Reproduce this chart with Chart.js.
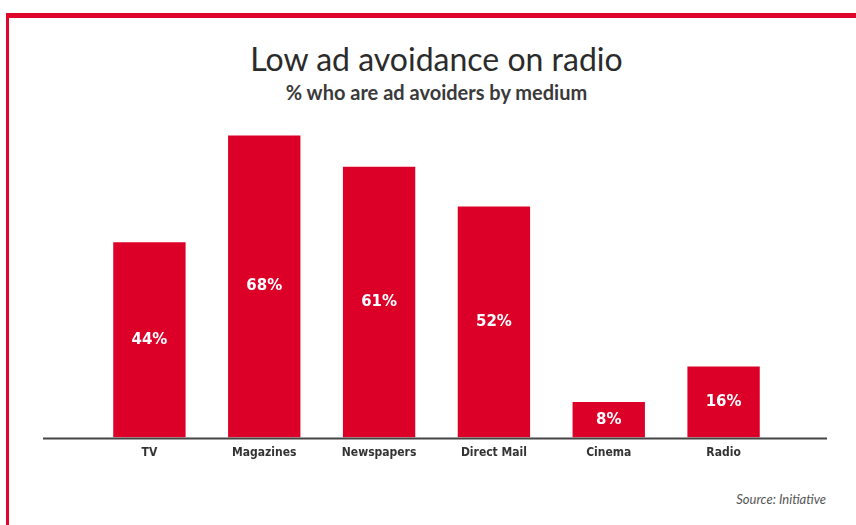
<!DOCTYPE html>
<html lang="en">
<head>
<meta charset="UTF-8">
<title>Low ad avoidance on radio</title>
<script src="https://cdn.jsdelivr.net/npm/chart.js@4/dist/chart.umd.min.js"></script>
<style>
  * { box-sizing: border-box; margin: 0; padding: 0; }
  body { width: 856px; height: 525px; background: #fff; position: relative; overflow: hidden; font-family: Lato, sans-serif; }
  .frame-top { position: absolute; left: 6px; top: 13px; width: 850px; height: 5px; background: #e0062b; }
  .frame-left { position: absolute; left: 6px; top: 13px; width: 3px; height: 512px; background: #e0062b; }
  .title { position: absolute; left: 0; width: 873px; top: 39px; text-align: center; font-size: 32px; color: #2b2b2b; }
  .subtitle { position: absolute; left: 0; width: 873px; top: 80px; text-align: center; font-size: 20px; font-weight: 700; color: #3a3a3a; }
  .source { position: absolute; right: 30px; top: 491px; font-size: 13px; font-style: italic; color: #555; }
  #wrap { position: absolute; left: 0; top: 0; width: 856px; height: 525px; }
</style>
</head>
<body>
<div class="frame-top"></div>
<div class="frame-left"></div>
<div class="title">Low ad avoidance on radio</div>
<div class="subtitle">% who are ad avoiders by medium</div>
<div class="source">Source: Initiative</div>
<div id="wrap"><canvas id="chart" width="856" height="525"></canvas></div>
<script>
const categories = ['TV', 'Magazines', 'Newspapers', 'Direct Mail', 'Cinema', 'Radio']
const avoiders = [44, 68, 61, 52, 8, 16]

const RED = '#dc0029'

// white % labels centred inside each bar
const barLabels = {
  id: 'barLabels',
  afterDatasetsDraw(chart) {
    const { ctx } = chart
    const meta = chart.getDatasetMeta(0)
    ctx.save()
    ctx.fillStyle = '#fff'
    ctx.font = 'bold 15px "DejaVu Sans"'
    ctx.textAlign = 'center'
    ctx.textBaseline = 'middle'
    meta.data.forEach((bar, i) => {
      ctx.fillText(avoiders[i] + '%', bar.x, (bar.y + bar.base) / 2)
    })
    ctx.restore()
  }
}

// baseline runs wider than the plot area
const baseline = {
  id: 'baseline',
  afterDraw(chart) {
    const { ctx, chartArea } = chart
    const y = chart.scales.y.getPixelForValue(0) + 1
    ctx.save()
    ctx.strokeStyle = '#444'
    ctx.lineWidth = 2
    ctx.beginPath()
    ctx.moveTo(chartArea.left - 49, y)
    ctx.lineTo(chartArea.right + 46, y)
    ctx.stroke()
    ctx.restore()
  }
}

new Chart(document.getElementById('chart'), {
  type: 'bar',
  data: {
    labels: categories,
    datasets: [{ data: avoiders, backgroundColor: RED, borderWidth: 0, barPercentage: 0.63, categoryPercentage: 1 }]
  },
  options: {
    responsive: false,
    animation: false,
    layout: { padding: { left: 92, right: 75, top: 100, bottom: 65 } },
    plugins: { legend: { display: false }, tooltip: { enabled: false } },
    scales: {
      x: {
        grid: { display: false },
        border: { display: false },
        ticks: { color: '#333', font: { family: 'DejaVu Sans Condensed', weight: 'bold', size: 12 }, padding: 0 }
      },
      y: { display: false, min: 0, max: 76 }
    }
  },
  plugins: [barLabels, baseline]
})
</script>
</body>
</html>
